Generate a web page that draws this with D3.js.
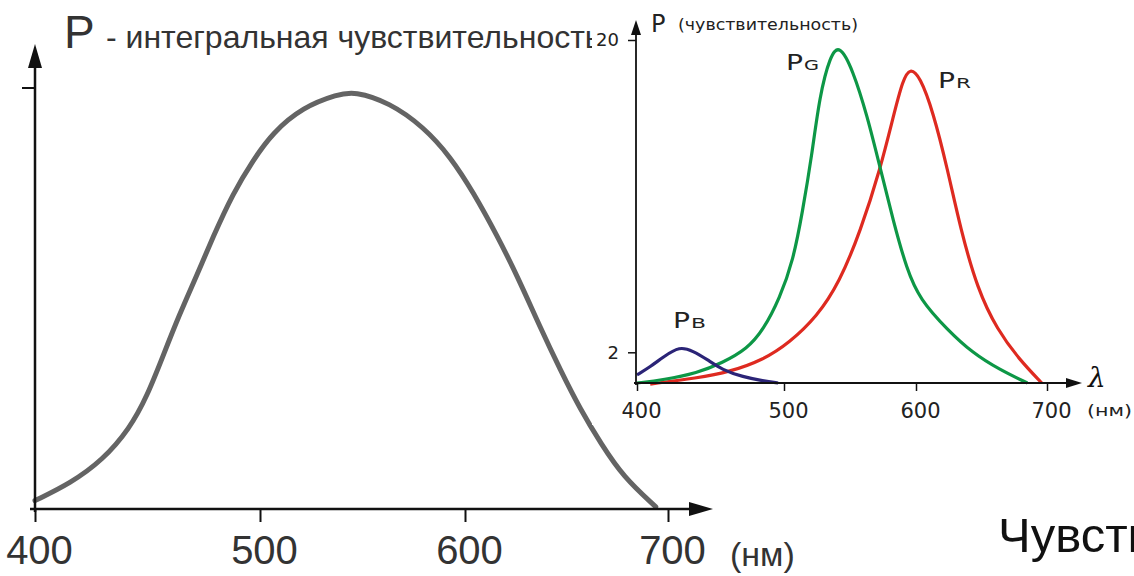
<!DOCTYPE html>
<html>
<head>
<meta charset="utf-8">
<script src="https://cdn.jsdelivr.net/npm/d3@7"></script>
<style>
  body { margin: 0; background: #fff; }
  svg { display: block; }
  .sans { font-family: "Liberation Sans", Arial, sans-serif; }
  .wide { font-family: "DejaVu Sans", Verdana, sans-serif; }
</style>
</head>
<body>
<svg id="chart" width="1134" height="576"></svg>
<script>
// wavelength ticks shared by both panels
var ticksNm = [400, 500, 600, 700];

// left panel: integral sensitivity (relative)
var totalNm  = [400, 416, 430, 442, 450, 457, 464, 472, 479, 488, 497, 506, 521, 538, 546, 563, 580, 593, 604, 616, 626, 637, 647, 657, 667, 678, 694];
var totalVal = [0.02, 0.062, 0.116, 0.19, 0.27, 0.365, 0.46, 0.556, 0.645, 0.75, 0.829, 0.893, 0.955, 0.985, 0.992, 0.966, 0.907, 0.836, 0.753, 0.648, 0.551, 0.432, 0.33, 0.235, 0.155, 0.076, 0.005];

// right panel: cone sensitivities
var blueNm  = [400, 409, 418, 429, 438, 448, 458, 472, 486, 496];
var blueVal = [0.7, 1.16, 1.74, 2.35, 2.08, 1.57, 0.99, 0.58, 0.35, 0.23];

var greenNm  = [400, 418, 441, 458, 475, 486, 497, 507, 514, 521, 527, 535, 542, 552, 563, 573, 583, 593, 603, 624, 643, 664, 685];
var greenVal = [0.23, 0.41, 0.81, 1.39, 2.2, 3.3, 5.1, 7.3, 10.1, 13.3, 16.8, 19.1, 19.75, 18.3, 15.65, 12.58, 9.51, 6.78, 5.04, 3.3, 1.97, 0.99, 0.23];

var redNm  = [409, 441, 463, 486, 504, 525, 542, 558, 573, 583, 590, 595.5, 603, 613, 624, 634, 647, 662, 679, 696];
var redVal = [0.17, 0.52, 0.87, 1.57, 2.55, 4.06, 6.03, 9.0, 12.58, 15.65, 17.7, 18.4, 17.9, 15.88, 12.58, 9.1, 5.62, 3.3, 1.57, 0.23];

var svg = d3.select('#chart');

function zip(xs, ys) {
  return xs.map((x, i) => [x, ys[i]]);
}

function arrowUp(g, x, y, w, h) {
  g.append('path').attr('d', `M${x},${y} L${x - w / 2},${y + h} L${x + w / 2},${y + h} Z`).attr('fill', '#111');
}
function arrowRight(g, x, y, w, h) {
  g.append('path').attr('d', `M${x},${y} L${x - h},${y - w / 2} L${x - h},${y + w / 2} Z`).attr('fill', '#111');
}

// ---------- left panel ----------
var xL = d3.scaleLinear().domain(ticksNm).range([35, 260, 465, 668]);
var yL = d3.scaleLinear().domain([0, 1]).range([509, 88]);

var left = svg.append('g');

left.append('path')
  .datum(zip(totalNm, totalVal))
  .attr('fill', 'none')
  .attr('stroke', '#646464')
  .attr('stroke-width', 5)
  .attr('stroke-linecap', 'round')
  .attr('d', d3.line().x(d => xL(d[0])).y(d => yL(d[1])).curve(d3.curveBasis));

// axes
left.append('line').attr('x1', 35).attr('y1', 512).attr('x2', 35).attr('y2', 60)
  .attr('stroke', '#111').attr('stroke-width', 2.5);
arrowUp(left, 35, 44, 14, 24);
left.append('line').attr('x1', 30).attr('y1', 509).attr('x2', 695).attr('y2', 509)
  .attr('stroke', '#111').attr('stroke-width', 2.5);
arrowRight(left, 713, 509, 14, 24);
left.append('line').attr('x1', 22).attr('y1', yL(1)).attr('x2', 35).attr('y2', yL(1))
  .attr('stroke', '#111').attr('stroke-width', 2);

var axL = left.append('g').attr('transform', 'translate(0,509)')
  .call(d3.axisBottom(xL).tickValues(ticksNm).tickSize(13).tickPadding(14).tickFormat(d3.format('d')));
axL.select('.domain').remove();
axL.selectAll('.tick line').attr('stroke', '#111').attr('stroke-width', 2);
axL.selectAll('.tick text').attr('class', 'sans').attr('font-size', 40).attr('fill', '#333').attr('dx', 4);

left.append('text').attr('class', 'sans').attr('x', 730).attr('y', 566)
  .attr('font-size', 34).attr('fill', '#333').text('(нм)');

left.append('text').attr('class', 'sans').attr('x', 64).attr('y', 48)
  .attr('font-size', 46).attr('fill', '#333').text('P');
left.append('text').attr('class', 'sans').attr('x', 106).attr('y', 48)
  .attr('font-size', 32).attr('fill', '#333').text('- интегральная чувствительность');

// ---------- right panel (inset picture with white background) ----------
var right = svg.append('g');
right.append('rect').attr('x', 592).attr('y', 0).attr('width', 542).attr('height', 425).attr('fill', '#fff');

var xR = d3.scaleLinear().domain(ticksNm).range([637, 784, 916, 1047]);
var yR = d3.scaleLinear().domain([0, 20]).range([387, 40]);
var lineR = d3.line().x(d => xR(d[0])).y(d => yR(d[1])).curve(d3.curveBasis);

var series = [
  { nm: redNm, val: redVal, color: '#de2a20' },
  { nm: greenNm, val: greenVal, color: '#0d9746' },
  { nm: blueNm, val: blueVal, color: '#2b2477' }
];
right.selectAll('path.cone')
  .data(series)
  .enter()
  .append('path')
    .attr('class', 'cone')
    .attr('fill', 'none')
    .attr('stroke', d => d.color)
    .attr('stroke-width', 3.2)
    .attr('d', d => lineR(zip(d.nm, d.val)));

right.append('line').attr('x1', 636).attr('y1', 385).attr('x2', 636).attr('y2', 30)
  .attr('stroke', '#111').attr('stroke-width', 1.8);
arrowUp(right, 636, 20, 10, 15);
right.append('line').attr('x1', 634).attr('y1', 383).attr('x2', 1068).attr('y2', 383)
  .attr('stroke', '#111').attr('stroke-width', 1.8);
arrowRight(right, 1082, 383, 10, 16);

var axR = right.append('g').attr('transform', 'translate(0,383)')
  .call(d3.axisBottom(xR).tickValues(ticksNm).tickSize(8).tickPadding(10).tickFormat(d3.format('d')));
axR.select('.domain').remove();
axR.selectAll('.tick line').attr('stroke', '#111').attr('stroke-width', 1.5);
axR.selectAll('.tick text').attr('class', 'wide').attr('font-size', 21).attr('fill', '#222')
  .attr('dy', null).attr('y', 35).attr('dx', 4);

var axRy = right.append('g').attr('transform', 'translate(636,0)')
  .call(d3.axisLeft(yR).tickValues([2, 20]).tickSize(8).tickPadding(9));
axRy.select('.domain').remove();
axRy.selectAll('.tick line').attr('stroke', '#111').attr('stroke-width', 1.5);
axRy.selectAll('.tick text').attr('class', 'wide').attr('font-size', 18).attr('fill', '#222');

right.append('text').attr('class', 'wide').attr('x', 651).attr('y', 32)
  .attr('font-size', 24).attr('fill', '#222').text('P');
right.append('text').attr('class', 'wide').attr('x', 678).attr('y', 30)
  .attr('font-size', 15).attr('fill', '#222')
  .attr('textLength', 180).attr('lengthAdjust', 'spacingAndGlyphs').text('(чувствительность)');

// curve labels: big P with a small subscript-like letter
var labels = [
  { x: 786, y: 70, sub: 'G' },
  { x: 938, y: 88, sub: 'R' },
  { x: 673, y: 328, sub: 'B' }
];
labels.forEach(function (l) {
  right.append('text').attr('class', 'wide').attr('x', l.x).attr('y', l.y)
    .attr('font-size', 21).attr('fill', '#222')
    .attr('textLength', 17).attr('lengthAdjust', 'spacingAndGlyphs').text('P');
  right.append('text').attr('class', 'wide').attr('x', l.x + 18).attr('y', l.y)
    .attr('font-size', 14).attr('fill', '#222')
    .attr('textLength', 15).attr('lengthAdjust', 'spacingAndGlyphs').text(l.sub);
});

right.append('text').attr('x', 1088).attr('y', 387)
  .attr('font-family', '"DejaVu Serif", "Liberation Serif", serif').attr('font-style', 'italic')
  .attr('font-size', 28).attr('fill', '#111').text('λ');
right.append('text').attr('class', 'wide').attr('x', 1087).attr('y', 416)
  .attr('font-size', 16).attr('fill', '#222')
  .attr('textLength', 45).attr('lengthAdjust', 'spacingAndGlyphs').text('(нм)');

// bottom-right caption, cut by the page edge
svg.append('text').attr('class', 'sans').attr('x', 998).attr('y', 552)
  .attr('font-size', 49).attr('fill', '#111').text('Чувствительность');
</script>
</body>
</html>
